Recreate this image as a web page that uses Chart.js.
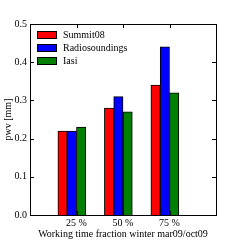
<!DOCTYPE html>
<html>
<head>
<meta charset="utf-8">
<script src="https://cdn.jsdelivr.net/npm/chart.js@4"></script>
<style>
  html, body { margin: 0; padding: 0; background: #fff; }
  #wrap { width: 240px; height: 240px; }
</style>
</head>
<body>
<div id="wrap"><canvas id="c" width="240" height="240"></canvas></div>
<script>
// data
var categories = ["25 %", "50 %", "75 %"];
var seriesNames = ["Summit08", "Radiosoundings", "Iasi"];
var summit08 = [0.22, 0.28, 0.34];
var radiosoundings = [0.22, 0.31, 0.44];
var iasi = [0.23, 0.27, 0.32];
var yTicks = [0.0, 0.1, 0.2, 0.3, 0.4, 0.5];

var colors = ["#ff0000", "#0000ff", "#008000"];
var FONT = "'Liberation Serif', 'Times New Roman', serif";
var groupShift = -0.1; // bars sit a little left of the tick

function toPoints(values) {
    return values.map(function (v, i) {
        return { x: i + 1 + groupShift, y: v };
    });
}

var allSeries = [summit08, radiosoundings, iasi];
var datasets = allSeries.map(function (vals, i) {
    return {
        label: seriesNames[i],
        data: toPoints(vals),
        backgroundColor: colors[i],
        borderColor: "#000",
        borderWidth: 1,
        barThickness: 9.3
    };
});

// frame, inward ticks and the legend inside the plot
var framePlugin = {
    id: "frame",
    afterDatasetsDraw: function (chart) {
        var ctx = chart.ctx;
        var a = chart.chartArea;
        var xs = chart.scales.x, ys = chart.scales.y;
        ctx.save();
        ctx.strokeStyle = "#000";
        ctx.lineWidth = 1;
        ctx.strokeRect(Math.round(a.left) + 0.5, Math.round(a.top) + 0.5,
            Math.round(a.right - a.left), Math.round(a.bottom - a.top));

        ctx.beginPath();
        yTicks.forEach(function (t) {
            var py = Math.round(ys.getPixelForValue(t)) + 0.5;
            ctx.moveTo(a.left, py); ctx.lineTo(a.left + 4, py);
            ctx.moveTo(a.right, py); ctx.lineTo(a.right - 4, py);
        });
        categories.forEach(function (c, i) {
            var px = Math.round(xs.getPixelForValue(i + 1)) + 0.5;
            ctx.moveTo(px, a.bottom); ctx.lineTo(px, a.bottom - 4);
            ctx.moveTo(px, a.top); ctx.lineTo(px, a.top + 4);
        });
        ctx.stroke();

        // legend
        ctx.font = "10px " + FONT;
        ctx.textBaseline = "middle";
        ctx.textAlign = "left";
        chart.data.datasets.forEach(function (ds, i) {
            var ly = a.top + 11 + i * 13;
            ctx.fillStyle = ds.backgroundColor;
            ctx.fillRect(a.left + 7.5, ly - 3.5, 19, 7);
            ctx.strokeStyle = "#000";
            ctx.strokeRect(a.left + 7.5, ly - 3.5, 19, 7);
            ctx.fillStyle = "#000";
            ctx.fillText(ds.label, a.left + 33, ly);
        });
        ctx.restore();
    }
};

new Chart(document.getElementById("c"), {
    type: "bar",
    data: { datasets: datasets },
    plugins: [framePlugin],
    options: {
        responsive: false,
        animation: false,
        layout: { padding: { left: 0, right: 24, top: 24, bottom: 0 } },
        plugins: {
            legend: { display: false },
            tooltip: { enabled: false }
        },
        scales: {
            x: {
                type: "linear",
                offset: false,
                min: 0,
                max: 4,
                grid: { display: false, drawTicks: false, offset: false },
                border: { display: false },
                afterBuildTicks: function (scale) {
                    scale.ticks = categories.map(function (c, i) { return { value: i + 1 }; });
                },
                ticks: {
                    color: "#000",
                    font: { family: FONT, size: 10 },
                    padding: 2,
                    maxRotation: 0,
                    callback: function (v) { return categories[v - 1] || ""; }
                },
                title: {
                    display: true,
                    text: "Working time fraction winter mar09/oct09",
                    color: "#000",
                    font: { family: FONT, size: 10 },
                    padding: { top: 0, bottom: 0 }
                },
                afterFit: function (scale) { scale.height = 25; }
            },
            y: {
                min: 0,
                max: 0.5,
                grid: { display: false, drawTicks: false },
                border: { display: false },
                afterBuildTicks: function (scale) {
                    scale.ticks = yTicks.map(function (t) { return { value: t }; });
                },
                ticks: {
                    color: "#000",
                    font: { family: FONT, size: 10 },
                    padding: 3,
                    callback: function (v) { return v.toFixed(1); }
                },
                title: {
                    display: true,
                    text: "pwv [mm]",
                    color: "#000",
                    font: { family: FONT, size: 10 },
                    padding: { top: 2, bottom: 0 }
                },
                afterFit: function (scale) { scale.width = 30; }
            }
        }
    }
});
</script>
</body>
</html>
